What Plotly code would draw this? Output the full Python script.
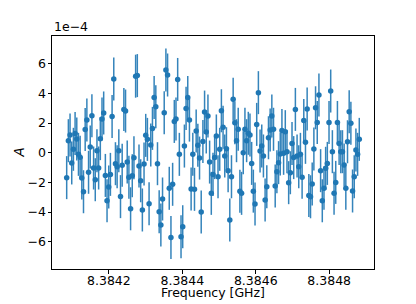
import plotly.graph_objects as go

# Frequency sweep (GHz): first point and step
freq_start = 8.384085
freq_step = 4.58e-6

# Amplitude A in units of 1e-4
amp_e4 = [
    -1.68, 0.81, 1.19, -0.69, 0.23, 1.30, 0.92, -0.11, -0.31, -1.71,
    -2.63, 1.57, 2.20, -1.32, 0.38, 2.50, -1.03, -1.82, 0.14, -1.03,
    0.95, 2.27, 2.68, -1.53, -3.24, -2.31, -1.46, 2.45, 4.97, -0.74,
    -0.94, 0.14, -2.96, -0.85, 2.92, 2.81, -0.63, -1.66, -3.78, -1.55,
    -0.34, 5.16, 5.20, -0.90, -1.89, -3.86, -0.76, 1.17, 0.90, -3.44,
    0.52, 1.64, 3.73, 3.10, -0.74, -3.98, -4.88, -3.12, 2.70, 5.57,
    5.24, -2.40, -5.71, -2.13, 2.11, 2.27, 4.94, -0.11, -5.66, -4.99,
    0.45, 2.99, 3.73, 2.20, -2.45, -0.11, -2.47, 1.46, 0.50, -0.36,
    -4.00, 0.75, 2.74, 1.40, 2.47, -0.63, -2.74, -1.46, -0.33, 1.13,
    -1.62, 0.23, 2.83, 1.71, -0.22, 0.27, -1.21, -4.54, -1.62, 3.60,
    2.02, 0.81, 1.58, -2.59, -2.74, 0.00, 1.58, 0.81, 1.31, 1.19,
    -0.72, -2.59, -3.46, 1.91, 4.05, 0.11, 0.45, -0.22, -3.19, -2.29,
    1.01, 1.53, 2.47, 1.58, -2.25, -1.28, -0.67, -0.09, 1.49, -0.04,
    1.42, 0.07, -2.02, -1.35, 0.62, -0.33, 2.92, -0.22, -0.94, -0.11,
    -1.66, 2.18, 0.70, 2.95, -2.88, -2.97, -2.11, 0.25, 3.03, 2.04,
    3.89, -1.21, -3.24, -2.40, -1.05, -0.72, 2.04, 4.16, 0.07, -2.74,
    -2.00, 2.04, 0.63, 0.07, 0.07, -0.83, -2.40, 0.74, 2.77, 1.98,
    -2.58, -1.62, 0.18, -0.11, 0.90,
]
err_e4 = 1.45  # uniform error bar half-length (1e-4 units)

freq = [freq_start + i * freq_step for i in range(len(amp_e4))]
errs = [err_e4] * len(amp_e4)

xticks = [8.3842, 8.3844, 8.3846, 8.3848]
xtick_text = ["8.3842", "8.3844", "8.3846", "8.3848"]
yticks = [-6, -4, -2, 0, 2, 4, 6]
ytick_text = ["\u22126", "\u22124", "\u22122", "0", "2", "4", "6"]

C0 = "#1f77b4"
FONT = "DejaVu Sans"

fig = go.Figure()
fig.add_trace(go.Scatter(
    x=freq, y=amp_e4, mode="markers",
    marker=dict(color=C0, size=5.5, line=dict(width=0)),
    error_y=dict(type="data", array=errs, visible=True,
                 color="rgba(31,119,180,0.9)", thickness=1.5, width=0),
    showlegend=False,
))

# page body has an 8px margin, so the figure is 8px smaller and offset
OFF = 8
W, H = 416 - OFF, 304 - OFF
L, R, T, B = 52 - OFF, 42, 36 - OFF, 35
PW, PH = W - L - R, H - T - B

fig.update_layout(
    width=W, height=H,
    margin=dict(l=L, r=R, t=T, b=B, pad=0, autoexpand=False),
    paper_bgcolor="white", plot_bgcolor="white",
    font=dict(family=FONT, size=12.5, color="black"),
    xaxis=dict(
        range=[8.384045, 8.384922],
        tickvals=xticks, ticktext=xtick_text,
        showgrid=False, zeroline=False, automargin=False,
        showline=True, linecolor="black", linewidth=1, mirror=True,
        ticks="outside", ticklen=3.5, tickwidth=0.8, tickcolor="black",
        ticklabelstandoff=-4,
        tickfont=dict(family=FONT, size=12.5, color="black"),
    ),
    yaxis=dict(
        range=[-7.84, 7.87],
        tickvals=yticks, ticktext=ytick_text,
        showgrid=False, zeroline=False, automargin=False,
        showline=True, linecolor="black", linewidth=1, mirror=True,
        ticks="outside", ticklen=3.5, tickwidth=0.8, tickcolor="black",
        ticklabelstandoff=-1,
        tickfont=dict(family=FONT, size=12.5, color="black"),
    ),
    annotations=[
        dict(text="1e\u22124", xref="paper", yref="paper", x=0, y=1,
             xanchor="left", yanchor="bottom", yshift=0, showarrow=False,
             font=dict(family=FONT, size=12.5, color="black")),
        dict(text="Frequency [GHz]", xref="paper", yref="paper",
             x=0.5, y=-(292.5 - 269) / PH,
             xanchor="center", yanchor="middle", showarrow=False,
             font=dict(family=FONT, size=12.5, color="black")),
        dict(text="<i>A</i>", xref="paper", yref="paper",
             x=(18 - 52) / PW, y=0.5, textangle=-90,
             xanchor="center", yanchor="middle", showarrow=False,
             font=dict(family=FONT, size=13.5, color="black")),
    ],
)

fig.write_html("out.html")
